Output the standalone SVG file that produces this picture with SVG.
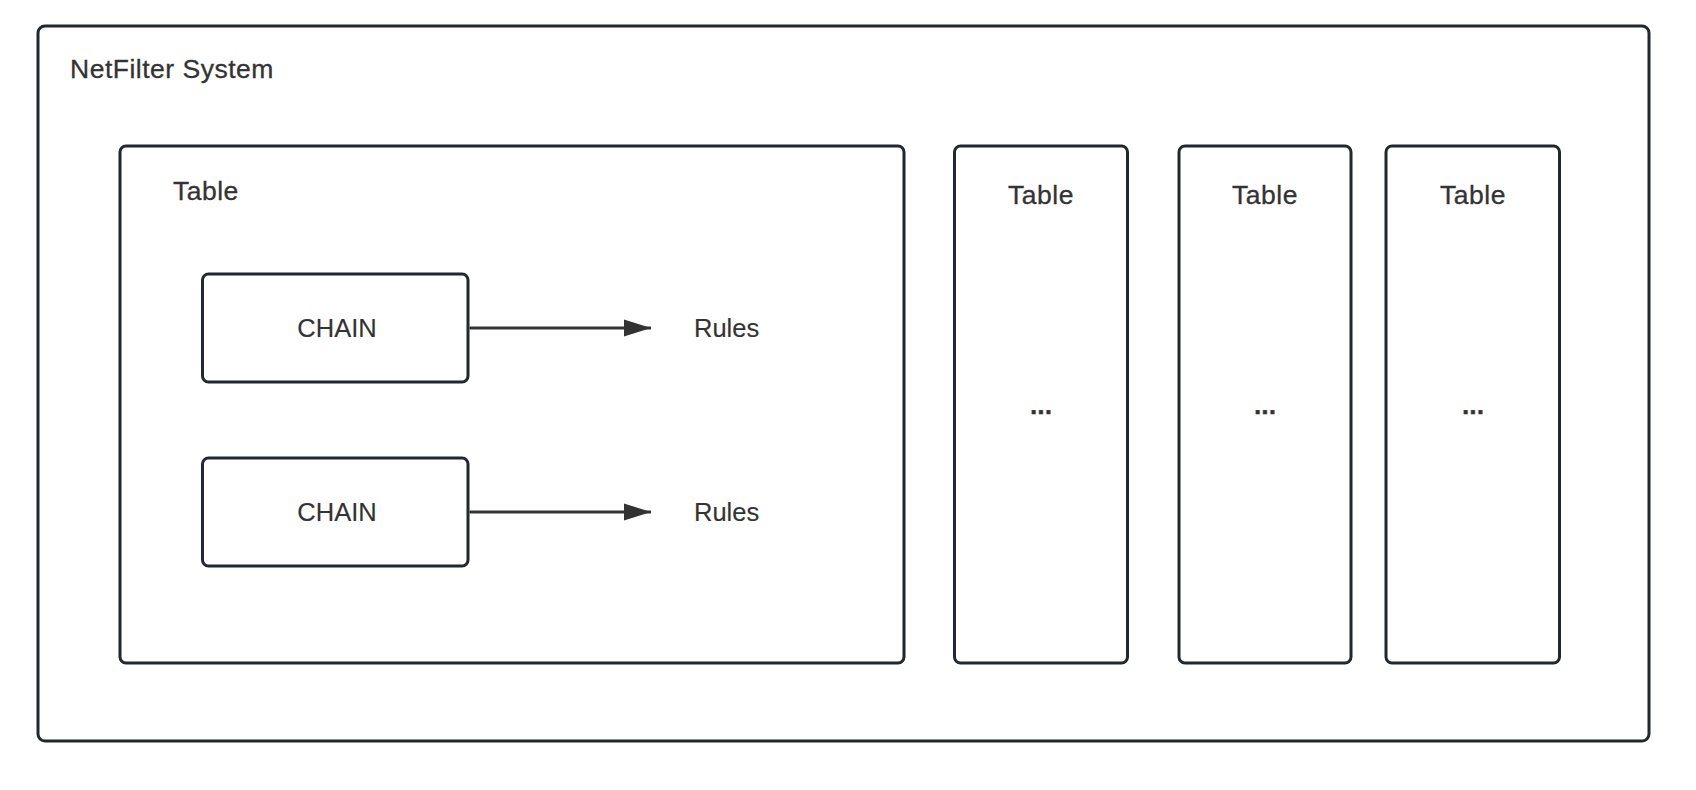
<svg xmlns="http://www.w3.org/2000/svg" width="1696" height="790" viewBox="0 0 1696 790">
<defs>
<style>
.box{fill:#ffffff;stroke:#23272e;stroke-width:3}
.t{font-family:"Liberation Sans",Arial,sans-serif;font-size:26.5px;letter-spacing:0.5px;fill:#333333;stroke:#333333;stroke-width:0.3}
.s{font-size:25.5px;letter-spacing:0;stroke-width:0.15}
.c{text-anchor:middle}
.d{font-weight:bold;letter-spacing:0}
.edge{stroke:#333333;stroke-width:3;fill:none}
</style>
<marker id="arr" markerUnits="userSpaceOnUse" markerWidth="30" markerHeight="20" refX="28" refY="9" orient="auto">
<path d="M1,0.5 L28,9 L1,17.5 Z" fill="#333333"/>
</marker>
</defs>
<rect width="1696" height="790" fill="#ffffff"/>
<g id="netfilter-system">
<rect class="box" x="38" y="26" width="1611" height="715" rx="7"/>
<text class="t" x="70" y="78">NetFilter System</text>
</g>
<g id="table-main">
<rect class="box" x="120" y="146" width="784" height="517" rx="6"/>
<text class="t" x="173" y="199.5">Table</text>
</g>
<g id="chain-1">
<rect class="box" x="202.5" y="274" width="265.5" height="108" rx="6"/>
<text class="t s c" x="337" y="337">CHAIN</text>
</g>
<g id="chain-2">
<rect class="box" x="202.5" y="458" width="265.5" height="108" rx="6"/>
<text class="t s c" x="337" y="521">CHAIN</text>
</g>
<g id="rules-1">
<text class="t s" x="694" y="337">Rules</text>
</g>
<g id="rules-2">
<text class="t s" x="694" y="521">Rules</text>
</g>
<g id="table-2">
<rect class="box" x="954.5" y="146" width="173" height="517" rx="6"/>
<text class="t c" x="1041" y="204">Table</text>
<text class="t c d" x="1041" y="414">...</text>
</g>
<g id="table-3">
<rect class="box" x="1179" y="146" width="172" height="517" rx="6"/>
<text class="t c" x="1265" y="204">Table</text>
<text class="t c d" x="1265" y="414">...</text>
</g>
<g id="table-4">
<rect class="box" x="1386" y="146" width="173.5" height="517" rx="6"/>
<text class="t c" x="1473" y="204">Table</text>
<text class="t c d" x="1473" y="414">...</text>
</g>
<g id="connectors">
<line class="edge" x1="469.5" y1="328" x2="651" y2="328" marker-end="url(#arr)"/>
<line class="edge" x1="469.5" y1="512" x2="651" y2="512" marker-end="url(#arr)"/>
</g>
</svg>
